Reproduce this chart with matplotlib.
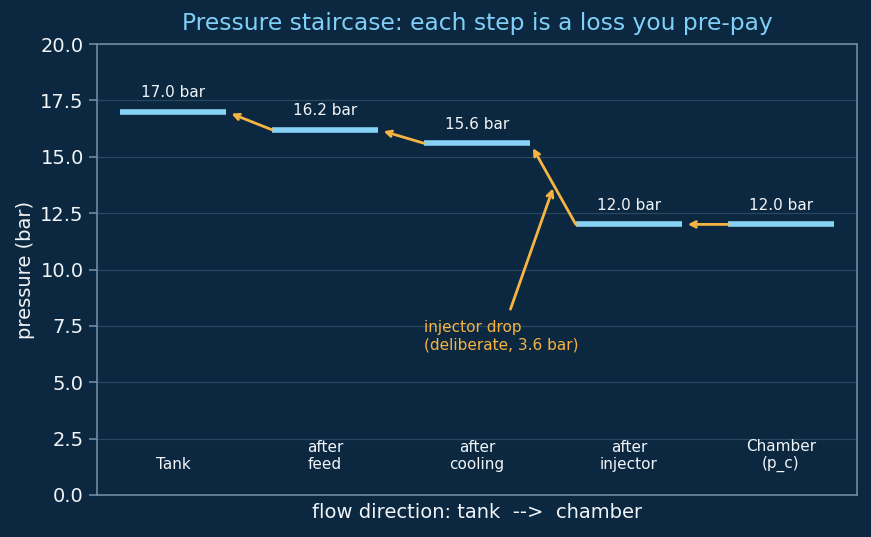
import matplotlib
matplotlib.use("Agg")
import matplotlib.pyplot as plt

plt.rcParams["font.family"] = ["DejaVu Sans"]

# stages along the feed line and the pressure at each one
stages = ["Tank", "after\nfeed", "after\ncooling", "after\ninjector", "Chamber\n(p_c)"]
pressures = [17.0, 16.2, 15.6, 12.0, 12.0]
injector_drop = 3.6

bg = "#0b2840"
step_col = "#87d3f8"
arrow_col = "#f7b443"
text_col = "#f2f5f8"
spine_col = "#6f8ba3"
grid_col = "#294761"

fig = plt.figure(figsize=(8.71, 5.37), dpi=100, facecolor=bg)
ax = fig.add_axes([97 / 871, 42 / 537, 760 / 871, 451 / 537])
ax.set_facecolor(bg)

half = 0.35
for i, p in enumerate(pressures):
    ax.hlines(p, i - half, i + half, color=step_col, linewidth=4, zorder=3)
    ax.text(i, p + 0.5, f"{p:.1f} bar", ha="center", va="bottom",
            color=text_col, fontsize=11)
    ax.text(i, 1.0, stages[i], ha="center", va="bottom",
            color=text_col, fontsize=11)

# arrows pointing back upstream from each step to the one before it
for i in range(1, len(pressures)):
    ax.annotate("", xy=(i - 1 + half, pressures[i - 1]),
                xytext=(i - half, pressures[i]),
                arrowprops=dict(arrowstyle="->", color=arrow_col, lw=2,
                                shrinkA=0, shrinkB=4))

mid_y = (pressures[2] + pressures[3]) / 2
ax.annotate(f"injector drop\n(deliberate, {injector_drop:.1f} bar)",
            xy=(2.5, mid_y - 0.2), xytext=(1.65, 7.05),
            ha="left", va="center", color=arrow_col, fontsize=11,
            arrowprops=dict(arrowstyle="->", color=arrow_col, lw=2,
                            shrinkA=6, shrinkB=0))

ax.set_xlim(-0.5, 4.5)
ax.set_ylim(0, 20)
ax.set_xticks([])
ax.set_yticks([0, 2.5, 5, 7.5, 10, 12.5, 15, 17.5, 20])
ax.set_yticklabels([f"{v:.1f}" for v in ax.get_yticks()])
ax.yaxis.grid(True, color=grid_col, linewidth=0.9)
ax.set_axisbelow(True)
ax.tick_params(axis="y", colors=spine_col, labelcolor=text_col, labelsize=14,
               length=6, width=1.2)
for s in ax.spines.values():
    s.set_color(spine_col)
    s.set_linewidth(1.2)

ax.set_ylabel("pressure (bar)", color=text_col, fontsize=14)
ax.set_xlabel("flow direction: tank  -->  chamber", color=text_col, fontsize=14,
              labelpad=5.5)
ax.set_title("Pressure staircase: each step is a loss you pre-pay",
             color="#7fd0f8", fontsize=16.8, pad=10)

fig.savefig("out.png", dpi=100, facecolor=bg)
